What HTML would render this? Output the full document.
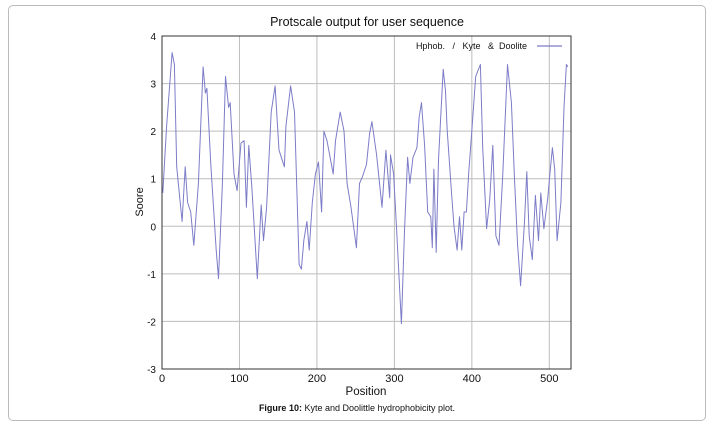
<!DOCTYPE html>
<html><head><meta charset="utf-8"><style>
html,body{margin:0;padding:0;background:#fff;}
body{width:715px;height:427px;overflow:hidden;position:relative;font-family:"Liberation Sans",Arial,sans-serif;}
#frame{position:absolute;left:8px;top:5px;width:698px;height:416px;border:1px solid #bbb;border-radius:5px;box-sizing:border-box;}
</style></head><body>
<div id="frame"></div>
<svg id="chart" width="715" height="427" style="position:absolute;left:0;top:0" font-family="Liberation Sans, Arial, sans-serif">
<text x="367" y="26" font-size="12.5" text-anchor="middle" fill="#111">Protscale output for user sequence</text>
<g id="grid"></g><g id="axes"></g>
<polyline id="series" fill="none" stroke="#7c7cc8" stroke-width="1" stroke-linejoin="round"/>
<text x="527" y="49" font-size="9" text-anchor="end" fill="#111" xml:space="preserve">Hphob.   /   Kyte   &amp;  Doolite</text>
<line x1="537" y1="46" x2="562" y2="46" stroke="#7c7cc8" stroke-width="1.3"/>
<text transform="translate(143,202) rotate(-90)" font-size="11" text-anchor="middle" fill="#111">Soore</text>
<text x="366" y="395" font-size="11.5" text-anchor="middle" fill="#111">Position</text>
<text x="357" y="411" font-size="9" text-anchor="middle" fill="#111"><tspan font-weight="bold">Figure 10:</tspan>  Kyte and Doolittle hydrophobicity plot.</text>
</svg>
<script>
const positions=[1,6,13,16,19,26,30,33,37,41,47,53,56,58,63,70,73,78,82,86,88,93,97,102,106,109,112,116,123,128,131,135,141,146,151,158,160,166,171,177,180,183,187,190,194,198,202,206,209,213,217,221,224,230,235,239,244,251,255,259,264,268,271,277,284,289,294,295,299,303,309,313,317,320,324,329,332,335,339,343,347,349,351,354,357,363,366,368,374,377,381,384,387,390,393,396,400,405,411,414,419,423,427,431,435,440,446,451,455,459,463,468,471,474,478,482,486,489,493,498,501,504,507,510,515,519,522,524];
const scores=[0.7,2.1,3.65,3.4,1.25,0.1,1.25,0.5,0.3,-0.4,0.9,3.35,2.8,2.9,1.3,-0.5,-1.1,0.9,3.15,2.5,2.6,1.1,0.75,1.75,1.8,0.4,1.7,0.8,-1.1,0.45,-0.3,0.4,2.4,2.95,1.6,1.25,2.1,2.95,2.4,-0.8,-0.9,-0.3,0.1,-0.5,0.5,1.1,1.35,0.3,2.0,1.8,1.45,1.1,1.8,2.4,2.0,0.9,0.4,-0.45,0.9,1.05,1.3,1.95,2.2,1.5,0.4,1.6,0.6,1.5,1.1,-0.1,-2.05,-0.1,1.45,0.9,1.45,1.65,2.3,2.6,1.7,0.3,0.2,-0.45,1.2,-0.55,1.4,3.3,2.85,2.05,0.65,0.0,-0.5,0.2,-0.5,0.3,0.3,1.15,2.0,3.15,3.4,1.65,-0.05,0.55,1.7,-0.2,-0.4,1.1,3.4,2.6,1.0,-0.4,-1.25,0.1,1.15,-0.2,-0.7,0.65,-0.3,0.7,-0.05,0.6,1.15,1.65,1.2,-0.3,0.5,2.5,3.4,3.35];
const xTicks=[0,100,200,300,400,500];
const yTicks=[-3,-2,-1,0,1,2,3,4];
const L=162,R=571,T=36,B=369,xMax=528,yMin=-3,yMax=4;
const xs=v=>L+(v/xMax)*(R-L);
const ys=v=>B-(v-yMin)/(yMax-yMin)*(B-T);
const NS='http://www.w3.org/2000/svg';
const grid=document.getElementById('grid'),axes=document.getElementById('axes');
function mk(tag,attrs,parent){const e=document.createElementNS(NS,tag);for(const k in attrs)e.setAttribute(k,attrs[k]);parent.appendChild(e);return e;}
yTicks.forEach(t=>{
  if(t>yMin&&t<yMax){const g=mk('line',{x1:L,x2:R,y1:ys(t),y2:ys(t),stroke:'#bdbdbd','stroke-width':1},grid);
  
  }
  const tx=mk('text',{x:L-6,y:ys(t)+4,'font-size':10,'text-anchor':'end',fill:'#111'},axes);
  tx.textContent=t;
  
  
});
xTicks.forEach(t=>{
  if(t>0){const g=mk('line',{x1:xs(t),x2:xs(t),y1:T,y2:B,stroke:'#bdbdbd','stroke-width':1},grid);
  
  }
  const tx=mk('text',{x:xs(t),y:B+13,'font-size':11,'text-anchor':'middle',fill:'#111'},axes);
  tx.textContent=t;
  
  
});
const box=mk('rect',{x:L,y:T,width:R-L,height:B-T,fill:'none',stroke:'#333','stroke-width':1},axes);


document.getElementById('series').setAttribute('points',positions.map((p,i)=>xs(p).toFixed(1)+','+ys(scores[i]).toFixed(1)).join(' '));
</script>
</body></html>
